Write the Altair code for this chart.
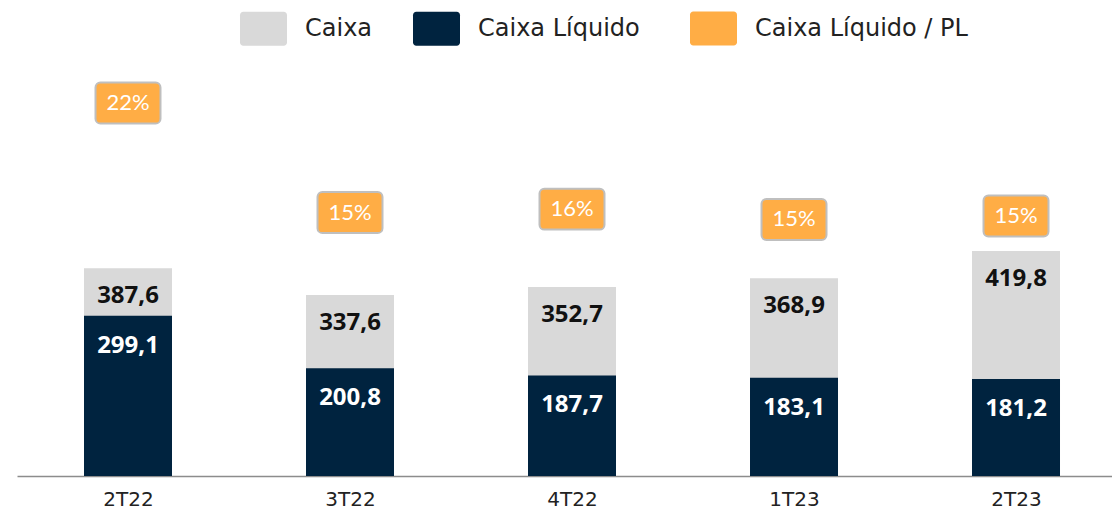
import altair as alt
import pandas as pd

categories = ["2T22", "3T22", "4T22", "1T23", "2T23"]
caixa = [387.6, 337.6, 352.7, 368.9, 419.8]
caixa_liquido = [299.1, 200.8, 187.7, 183.1, 181.2]
caixa_liq_pl = [21.8, 15.4, 15.6, 15.0, 15.2]

bar_series = ["Caixa", "Caixa Líquido"]
bar_colors = ["#D9D9D9", "#00233F"]
pct_series = ["Caixa Líquido / PL"]
pct_colors = ["#FFAD45"]


def fmt(v):
    return f"{v:.1f}".replace(".", ",")


idx = list(range(len(categories)))
df_caixa = pd.DataFrame({"idx": idx, "cat": categories, "valor": caixa, "serie": bar_series[0],
                         "rotulo": [fmt(v) for v in caixa]})
df_liq = pd.DataFrame({"idx": idx, "cat": categories, "valor": caixa_liquido, "serie": bar_series[1],
                       "rotulo": [fmt(v) for v in caixa_liquido]})
df_pct = pd.DataFrame({"idx": idx, "cat": categories, "pct": caixa_liq_pl, "serie": pct_series[0],
                       "rotulo": [f"{round(v)}%" for v in caixa_liq_pl]})

LEG_FONT = "DejaVu Sans"
VAL_FONT = "Noto Sans"
legend_path = ("M-0.86,-0.72H0.86A0.14,0.14,0,0,1,1,-0.58V0.58A0.14,0.14,0,0,1,0.86,0.72"
               "H-0.86A0.14,0.14,0,0,1,-1,0.58V-0.58A0.14,0.14,0,0,1,-0.86,-0.72Z")
box_path = ("M-0.85,-0.63H0.85A0.15,0.15,0,0,1,1,-0.48V0.48A0.15,0.15,0,0,1,0.85,0.63"
            "H-0.85A0.15,0.15,0,0,1,-1,0.48V-0.48A0.15,0.15,0,0,1,-0.85,-0.63Z")

leg_common = dict(orient="none", direction="horizontal", title=None,
                  symbolType=legend_path, symbolSize=2209,
                  symbolStrokeWidth=0, symbolOpacity=1,
                  labelFontSize=24, labelFont=LEG_FONT,
                  labelColor="#222222", labelOffset=18,
                  labelLimit=0, columnPadding=40)

cat_array = "[" + ",".join(f"'{c}'" for c in categories) + "]"
xenc = alt.X("idx:Q", title=None,
             scale=alt.Scale(domain=[-0.5, 4.4324], nice=False, zero=False, padding=0),
             axis=alt.Axis(values=idx, labelExpr=f"{cat_array}[datum.value]",
                           grid=False, ticks=False, labelPadding=13, labelFlush=False,
                           labelFontSize=20, labelColor="#222222", labelFont=LEG_FONT,
                           domainColor="#8C8C8C", domainWidth=1.5))
ybar = alt.Y("valor:Q", stack=None, axis=None, scale=alt.Scale(domain=[0, 750], nice=False))
ypct = alt.Y("pct:Q", axis=None, scale=alt.Scale(domain=[0, 23.5], nice=False))

color = alt.Color("serie:N", scale=alt.Scale(domain=bar_series, range=bar_colors),
                  legend=alt.Legend(legendX=223, legendY=-69, **leg_common))
fill = alt.Fill("serie:N", scale=alt.Scale(domain=pct_series, range=pct_colors),
                legend=alt.Legend(legendX=673, legendY=-69, **leg_common))

bar_caixa = alt.Chart(df_caixa).mark_bar(size=88).encode(x=xenc, y=ybar, color=color)
bar_liq = alt.Chart(df_liq).mark_bar(size=88).encode(x=xenc, y=ybar, color=color)
txt_caixa = alt.Chart(df_caixa).mark_text(
    font=VAL_FONT, fontSize=24, fontWeight="bold", color="#111111", baseline="middle", dy=28
).encode(x=xenc, y=ybar, text="rotulo:N")
txt_liq = alt.Chart(df_liq).mark_text(
    font=VAL_FONT, fontSize=24, fontWeight="bold", color="#FFFFFF", baseline="middle", dy=30
).encode(x=xenc, y=ybar, text="rotulo:N")
box = alt.Chart(df_pct).mark_point(
    shape=box_path, size=4225, filled=True, opacity=1, stroke="#BFBFBF", strokeWidth=2
).encode(x=xenc, y=ypct, fill=fill)
txt_pct = alt.Chart(df_pct).mark_text(
    font="Lato", fontSize=22, color="#FFFFFF", baseline="middle"
).encode(x=xenc, y=ypct, text="rotulo:N")

chart = alt.layer(bar_caixa, bar_liq, txt_caixa, txt_liq, box, txt_pct).resolve_scale(
    y="independent"
).properties(
    width=1095, height=402,
    padding={"left": 9, "top": 66, "right": 0, "bottom": 33},
    autosize=alt.AutoSizeParams(type="none"),
).configure_view(stroke=None)

chart.save("out.html", embed_options={"renderer": "svg", "actions": False})
